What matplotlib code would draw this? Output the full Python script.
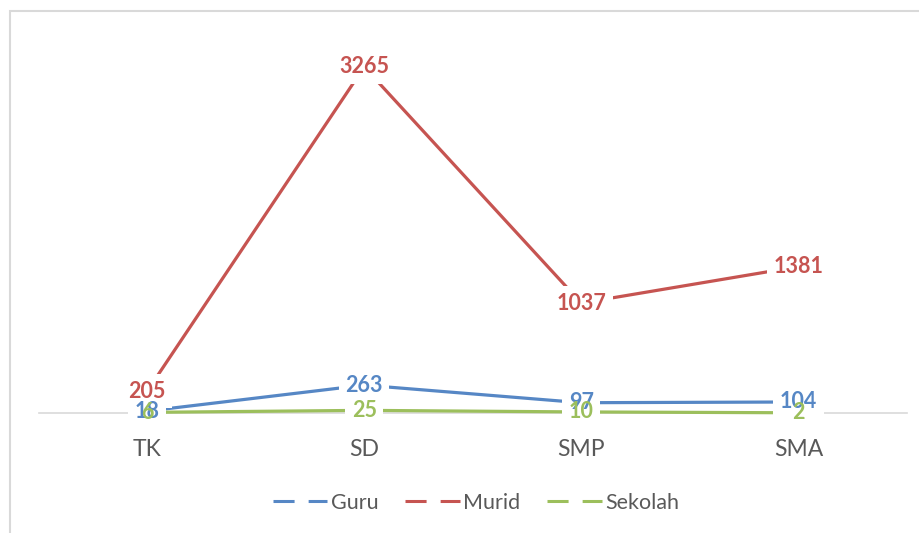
import matplotlib
matplotlib.use("Agg")
import matplotlib.pyplot as plt
from matplotlib.lines import Line2D
from matplotlib.patches import Rectangle

categories = ["TK", "SD", "SMP", "SMA"]
guru = [18, 263, 97, 104]
murid = [205, 3265, 1037, 1381]
sekolah = [6, 25, 10, 2]
series_names = ["Guru", "Murid", "Sekolah"]
colors = ["#5687C5", "#C65451", "#9CBF5C"]

plt.rcParams['font.family'] = ['Lato', 'DejaVu Sans']

W, H = 920, 533
fig = plt.figure(figsize=(W / 100, H / 100), dpi=100)
fig.patch.set_facecolor("white")

# chart border (cut off at right/bottom)
fig.patches.append(Rectangle((10 / W, -0.1), 1.2, 1 - 11 / H + 0.1,
                             transform=fig.transFigure, fill=False,
                             edgecolor="#D9D9D9", lw=1.5, zorder=0))

left, right = 38.5, 907
bottom, top = 413, 42
ax = fig.add_axes([left / W, 1 - bottom / H, (right - left) / W, (bottom - top) / H])
ax.set_facecolor("none")

x = list(range(len(categories)))
all_series = [guru, murid, sekolah]
for vals, c in zip(all_series, colors):
    ax.plot(x, vals, color=c, lw=2.3, solid_capstyle="butt", zorder=2, clip_on=False)

ax.set_xlim(-0.5, 3.5)
ax.set_ylim(0, 3500)
for s in ["top", "right", "left"]:
    ax.spines[s].set_visible(False)
ax.spines["bottom"].set_color("#D9D9D9")
ax.spines["bottom"].set_linewidth(1.2)
ax.spines["bottom"].set_zorder(1)
ax.set_yticks([])
ax.set_xticks(x)
ax.set_xticklabels(categories, fontsize=16.5, color="#595959")
ax.tick_params(axis="x", length=0, pad=19)

label_fs = 15.5
# white boxes first (gap in lines), then text on top
for vals, c in zip(all_series, colors):
    for xi, v in zip(x, vals):
        ax.text(xi, v, str(v), ha="center", va="center", fontsize=label_fs,
                fontweight="bold", color=(1, 1, 1, 0), zorder=3, clip_on=False,
                bbox=dict(boxstyle="square,pad=0.3", fc="white", ec="none"))
for vals, c in zip(all_series, colors):
    for xi, v in zip(x, vals):
        ax.text(xi, v, str(v), ha="center", va="center", fontsize=label_fs,
                fontweight="bold", color=c, zorder=4, clip_on=False)

handles = [Line2D([], [], color=c, lw=2.2, linestyle=(0, (6.9, 4.6)),
                  dash_capstyle="butt") for c in colors]
fig.legend(handles, series_names, loc="center", bbox_to_anchor=(476 / W, 1 - 503 / H),
           ncol=3, frameon=False, fontsize=15.5, labelcolor="#595959",
           handlelength=2.55, handletextpad=0.15, columnspacing=1.25)

fig.savefig("out.png", dpi=100, facecolor="white")
